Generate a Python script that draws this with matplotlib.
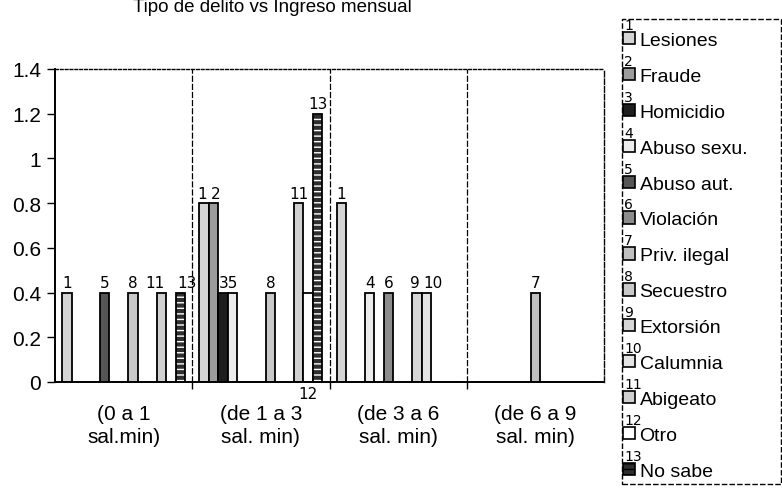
import numpy as np
import matplotlib
matplotlib.use('Agg')
import matplotlib.pyplot as plt
from matplotlib.patches import Rectangle, Patch
from matplotlib.ticker import FuncFormatter

plt.rcParams['font.family'] = ['Liberation Sans', 'DejaVu Sans']

# categories (ingreso mensual)
categories = ['(0 a 1\nsal.min)', '(de 1 a 3\nsal. min)', '(de 3 a 6\nsal. min)', '(de 6 a 9\nsal. min)']

# tipo de delito
series_names = ['Lesiones', 'Fraude', 'Homicidio', 'Abuso sexu.', 'Abuso aut.', 'Violación',
                'Priv. ilegal', 'Secuestro', 'Extorsión', 'Calumnia', 'Abigeato', 'Otro', 'No sabe']

lesiones = [0.4, 0.8, 0.8, 0]
fraude = [0, 0.8, 0, 0]
homicidio = [0, 0.4, 0, 0]
abuso_sexu = [0, 0.4, 0.4, 0]
abuso_aut = [0.4, 0, 0, 0]
violacion = [0, 0, 0.4, 0]
priv_ilegal = [0, 0, 0, 0.4]
secuestro = [0.4, 0.4, 0, 0]
extorsion = [0, 0, 0.4, 0]
calumnia = [0, 0, 0.4, 0]
abigeato = [0.4, 0.8, 0, 0]
otro = [0, 0.4, 0, 0]
no_sabe = [0.4, 1.2, 0, 0]

values = [lesiones, fraude, homicidio, abuso_sexu, abuso_aut, violacion, priv_ilegal,
          secuestro, extorsion, calumnia, abigeato, otro, no_sabe]

yticks = [0, 0.2, 0.4, 0.6, 0.8, 1, 1.2, 1.4]

# grey fills, like the scanned printout
fills = ['#d4d4d4', '#9c9c9c', '#1e1e1e', '#ececec', '#555555', '#8c8c8c', '#c0c0c0',
         '#c8c8c8', '#d6d6d6', '#e4e4e4', '#d0d0d0', '#ffffff', '#2e2e2e']

# handwritten marks on the bars: (category, series) -> text ; '' hides it
note_override = {(1, 2): '35', (1, 3): ''}
note_below = [(1, 11)]
note_ha = {(0, 10): 'right', (0, 12): 'left', (1, 0): 'right', (1, 1): 'left',
           (2, 8): 'right', (2, 9): 'left', (1, 2): 'left'}

fig = plt.figure(figsize=(7.82, 4.89), dpi=100)
ax = fig.add_axes([55/782, 1-383/489, (604-55)/782, (383-70)/489])

n = len(values)
x = np.arange(len(categories))
w = 1.0 / (n + 1.5)

for k in range(n):
    pos = x - 0.5 + 0.75*w + (k + 0.5)*w
    if k == n - 1:
        ax.bar(pos, values[k], w, color=fills[k], hatch='---', edgecolor='white', lw=0)
        ax.bar(pos, values[k], w, fill=False, edgecolor='black', lw=1.3)
    else:
        ax.bar(pos, values[k], w, color=fills[k], edgecolor='black', lw=1.3)
    for c in range(len(categories)):
        v = values[k][c]
        if v == 0:
            continue
        t = note_override.get((c, k), str(k + 1))
        if t == '':
            continue
        ha = note_ha.get((c, k), 'center')
        tx = pos[c]
        if ha == 'right':
            tx = pos[c] + 0.3*w
        elif ha == 'left':
            tx = pos[c] - 0.3*w
        if (c, k) in note_override:
            tx = pos[c] - 0.4*w
        if (c, k) in note_below:
            ax.text(tx, -0.02, t, ha=ha, va='top', fontsize=11, family='DejaVu Sans')
        else:
            ax.text(tx, v + 0.01, t, ha=ha, va='bottom', fontsize=11, family='DejaVu Sans')

ax.set_xlim(-0.5, len(categories) - 0.5)
ax.set_ylim(0, 1.4)
ax.set_yticks(yticks)
ax.yaxis.set_major_formatter(FuncFormatter(lambda v, p: '%g' % v))
ax.set_xticks(x)
ax.set_xticklabels(categories, linespacing=1.25)
ax.set_xticks(x[:-1] + 0.5, minor=True)
ax.tick_params(axis='x', which='major', length=0, pad=16, labelsize=15)
ax.tick_params(axis='x', which='minor', length=5, width=1, direction='out')
ax.tick_params(axis='y', length=6, width=1, labelsize=15, pad=4)
ax.grid(which='minor', axis='x', color='black', lw=0.9, ls=(0, (5, 1.5)))
ax.set_axisbelow(True)

for s in ['left', 'bottom']:
    ax.spines[s].set_linewidth(1.4)
ax.spines['top'].set_linestyle((0, (2, 1.5)))
ax.spines['top'].set_linewidth(1)
ax.spines['right'].set_linestyle((0, (4, 1.5)))
ax.spines['right'].set_linewidth(1)

fig.text(0.348, 1 - 12/489, 'Tipo de delito vs Ingreso mensual', ha='center', va='baseline', fontsize=13.5)

# legend
handles = []
for k in range(n):
    if k == n - 1:
        handles.append(Patch(facecolor=fills[k], edgecolor='black', hatch='---', lw=1.2))
    else:
        handles.append(Patch(facecolor=fills[k], edgecolor='black', lw=1.2))
leg = fig.legend(handles, series_names, loc='upper left', bbox_to_anchor=(623/782, 1 - 33/489),
                 frameon=False, fontsize=14, handlelength=0.6, handleheight=0.6,
                 handletextpad=0.25, labelspacing=0.97, borderpad=0, borderaxespad=0)
fig.patches.append(Rectangle((622/782, 1 - 485/489), (781-622)/782, (485-20)/489,
                             transform=fig.transFigure, fill=False, edgecolor='black',
                             lw=1, ls=(0, (4, 1.5))))

fig.canvas.draw()
inv = fig.transFigure.inverted()
for k, h in enumerate(leg.legend_handles):
    bb = h.get_window_extent()
    xx, yy = inv.transform((bb.x0 + 1, bb.y1))
    fig.text(xx, yy, str(k + 1), ha='left', va='bottom', fontsize=10, family='DejaVu Sans')

fig.savefig('out.png', dpi=100)
